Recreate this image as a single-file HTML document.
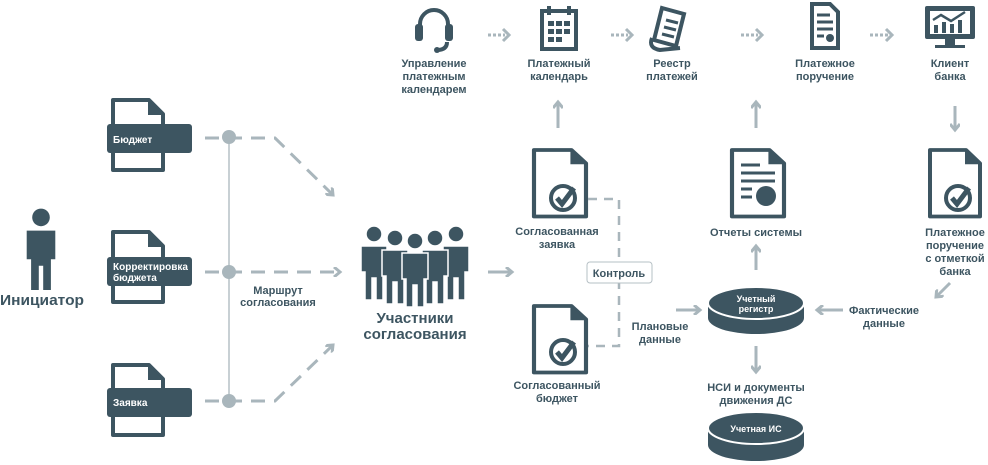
<!DOCTYPE html>
<html><head><meta charset="utf-8"><style>
html,body{margin:0;padding:0;background:#fff}
svg{display:block}
text{font-family:"Liberation Sans","DejaVu Sans",sans-serif;font-weight:bold;fill:#3d5561}
</style></head><body>
<svg width="988" height="465" viewBox="0 0 988 465" xmlns="http://www.w3.org/2000/svg">
<defs>
<g id="person" fill="#3d5561">
<circle cx="0" cy="-26" r="8"/>
<path d="M-13,-14 h26 v26 h-4 v28 h-7 v-22 h-4 v22 h-7 v-28 h-4z"/>
</g>
<g id="doc">
<path d="M0,0 h36 l14,14 v56 h-50z" fill="#fff" stroke="#3d5561" stroke-width="4" stroke-linejoin="round"/>
<path d="M35,0 v15 h15z" fill="#3d5561"/>
</g>
<g id="check">
<circle cx="0" cy="0" r="12" fill="none" stroke="#3d5561" stroke-width="4"/>
<path d="M-6,0 l5,6 l12,-16" fill="none" stroke="#3d5561" stroke-width="5"/>
</g>
<marker id="ah" markerWidth="10" markerHeight="10" refX="7" refY="5" orient="auto" markerUnits="userSpaceOnUse">
<path d="M1,0 L7,5 L1,10" fill="none" stroke="#a9b6bc" stroke-width="3"/>
</marker>
</defs>

<!-- Initiator -->
<g transform="translate(41,246) scale(1.1)"><use href="#person"/></g>
<text x="42" y="305" font-size="15" text-anchor="middle" textLength="84" lengthAdjust="spacingAndGlyphs">Инициатор</text>

<!-- left docs -->
<g transform="translate(113,100)"><use href="#doc"/></g>
<rect x="107" y="124" width="85" height="29" rx="3" fill="#3d5561"/>
<text x="113" y="143" font-size="10" style="fill:#fff">Бюджет</text>
<g transform="translate(113,232)"><use href="#doc"/></g>
<rect x="107" y="257" width="85" height="29" rx="3" fill="#3d5561"/>
<text x="113" y="270" font-size="10" style="fill:#fff">Корректировка</text>
<text x="113" y="281" font-size="10" style="fill:#fff">бюджета</text>
<g transform="translate(113,365)"><use href="#doc"/></g>
<rect x="107" y="388" width="85" height="29" rx="3" fill="#3d5561"/>
<text x="113" y="406" font-size="10" style="fill:#fff">Заявка</text>

<line x1="229" y1="137" x2="229" y2="401" stroke="#b6c0c5" stroke-width="1.5"/>
<g fill="none" stroke="#a9b6bc" stroke-width="3" stroke-dasharray="14,9">
<path d="M205,138 H275 L333,195" marker-end="url(#ah)"/>
<path d="M205,272 H340" marker-end="url(#ah)"/>
<path d="M205,401 H275 L333,345" marker-end="url(#ah)"/>
</g>
<circle cx="229" cy="137" r="7" fill="#a9b6bc"/>
<circle cx="229" cy="272" r="7" fill="#a9b6bc"/>
<circle cx="229" cy="401" r="7" fill="#a9b6bc"/>
<text x="278" y="294" font-size="11" text-anchor="middle">Маршрут</text>
<text x="278" y="306" font-size="11" text-anchor="middle">согласования</text>

<!-- participants -->
<g stroke="#fff" stroke-width="1.5">
<g transform="translate(374,260)"><use href="#person"/></g>
<g transform="translate(456,260)"><use href="#person"/></g>
<g transform="translate(395,264)"><use href="#person"/></g>
<g transform="translate(435,264)"><use href="#person"/></g>
<g transform="translate(415,267)"><use href="#person"/></g>
</g>
<text x="415" y="323" font-size="15" text-anchor="middle">Участники</text>
<text x="415" y="339" font-size="15" text-anchor="middle">согласования</text>
<line x1="488" y1="272" x2="512" y2="272" stroke="#a9b6bc" stroke-width="3" marker-end="url(#ah)"/>

<!-- approved docs -->
<g transform="translate(534,150) scale(1.04,0.95)"><use href="#doc"/></g>
<g transform="translate(563,198)"><use href="#check"/></g>
<text x="557" y="235" font-size="11" text-anchor="middle">Согласованная</text>
<text x="557" y="248" font-size="11" text-anchor="middle">заявка</text>
<g transform="translate(534,306) scale(1.04,0.95)"><use href="#doc"/></g>
<g transform="translate(563,352)"><use href="#check"/></g>
<text x="557" y="389" font-size="11" text-anchor="middle">Согласованный</text>
<text x="557" y="402" font-size="11" text-anchor="middle">бюджет</text>
<path d="M588,199 H619 V346 H588" fill="none" stroke="#a9b6bc" stroke-width="2.5" stroke-dasharray="9,7"/>
<rect x="587" y="262" width="65" height="21" rx="3" fill="#fff" stroke="#b6c0c5"/>
<text x="619" y="277" font-size="11" text-anchor="middle">Контроль</text>
<line x1="558" y1="128" x2="558" y2="102" stroke="#a9b6bc" stroke-width="3" marker-end="url(#ah)"/>
<text x="660" y="330" font-size="11" text-anchor="middle">Плановые</text>
<text x="660" y="343" font-size="11" text-anchor="middle">данные</text>
<line x1="676" y1="310" x2="700" y2="310" stroke="#a9b6bc" stroke-width="3" marker-end="url(#ah)"/>

<!-- reports -->
<g transform="translate(732,150) scale(1.04,0.95)"><use href="#doc"/></g>
<g stroke="#3d5561" stroke-width="3"><line x1="741" y1="165" x2="760" y2="165"/><line x1="741" y1="173" x2="775" y2="173"/><line x1="741" y1="181" x2="775" y2="181"/><line x1="741" y1="189" x2="752" y2="189"/><line x1="741" y1="197" x2="752" y2="197"/></g>
<circle cx="766" cy="196" r="10" fill="#3d5561"/>
<text x="756" y="236" font-size="11" text-anchor="middle">Отчеты системы</text>
<line x1="756" y1="128" x2="756" y2="102" stroke="#a9b6bc" stroke-width="3" marker-end="url(#ah)"/>
<line x1="756" y1="270" x2="756" y2="246" stroke="#a9b6bc" stroke-width="3" marker-end="url(#ah)"/>

<!-- register -->
<path d="M708,303 v15 a48,16 0 0 0 96,0 v-15z" fill="#3d5561"/>
<ellipse cx="756" cy="303" rx="48" ry="16" fill="#3d5561" stroke="#fff" stroke-width="2"/>
<text x="756" y="302" font-size="9" text-anchor="middle" style="fill:#fff">Учетный</text>
<text x="756" y="312" font-size="9" text-anchor="middle" style="fill:#fff">регистр</text>
<line x1="756" y1="346" x2="756" y2="372" stroke="#a9b6bc" stroke-width="3" marker-end="url(#ah)"/>
<text x="756" y="391" font-size="11" text-anchor="middle">НСИ и документы</text>
<text x="756" y="404" font-size="11" text-anchor="middle">движения ДС</text>
<path d="M708,428 v17 a48,16 0 0 0 96,0 v-17z" fill="#3d5561"/>
<ellipse cx="756" cy="428" rx="48" ry="16" fill="#3d5561" stroke="#fff" stroke-width="2"/>
<text x="756" y="432" font-size="9" text-anchor="middle" style="fill:#fff">Учетная ИС</text>
<text x="884" y="314" font-size="11" text-anchor="middle">Фактические</text>
<text x="884" y="327" font-size="11" text-anchor="middle">данные</text>
<line x1="843" y1="310" x2="817" y2="310" stroke="#a9b6bc" stroke-width="3" marker-end="url(#ah)"/>

<!-- right doc -->
<g transform="translate(930,150) scale(1.0,0.95)"><use href="#doc"/></g>
<g transform="translate(958,198)"><use href="#check"/></g>
<text x="955" y="236" font-size="11" text-anchor="middle">Платежное</text>
<text x="955" y="249" font-size="11" text-anchor="middle">поручение</text>
<text x="955" y="262" font-size="11" text-anchor="middle">с отметкой</text>
<text x="955" y="275" font-size="11" text-anchor="middle">банка</text>
<line x1="955" y1="106" x2="955" y2="130" stroke="#a9b6bc" stroke-width="3" marker-end="url(#ah)"/>
<line x1="950" y1="283" x2="936" y2="297" stroke="#a9b6bc" stroke-width="3" marker-end="url(#ah)"/>

<!-- top row icons -->
<g fill="none" stroke="#3d5561" stroke-width="4">
<path d="M420,32 v-8 a14,14 0 0 1 28,0 v8"/>
<path d="M447,42 q0,8 -10,8"/>
</g>
<rect x="415" y="24" width="8" height="17" rx="3" fill="#3d5561"/>
<rect x="445" y="24" width="8" height="17" rx="3" fill="#3d5561"/>
<circle cx="437" cy="50" r="3" fill="#3d5561"/>

<rect x="542" y="11" width="34" height="38" fill="none" stroke="#3d5561" stroke-width="4"/>
<g fill="#3d5561"><rect x="547" y="6" width="4" height="9"/><rect x="567" y="6" width="4" height="9"/>
<rect x="548" y="21" width="6" height="5"/><rect x="556" y="21" width="6" height="5"/><rect x="564" y="21" width="6" height="5"/>
<rect x="548" y="29" width="6" height="5"/><rect x="556" y="29" width="6" height="5"/><rect x="564" y="29" width="6" height="5"/>
<rect x="548" y="37" width="6" height="5"/><rect x="556" y="37" width="6" height="5"/></g>

<path d="M662,8 l22,6 l-8,32 l-22,-6 z" fill="none" stroke="#3d5561" stroke-width="4"/>
<path d="M652,38 q-4,10 8,12 l20,-2" fill="none" stroke="#3d5561" stroke-width="4"/>
<g stroke="#3d5561" stroke-width="3"><line x1="666" y1="20" x2="678" y2="23"/><line x1="664" y1="27" x2="676" y2="30"/><line x1="662" y1="34" x2="674" y2="37"/></g>

<path d="M812,4 h18 l8,8 v36 h-26z" fill="none" stroke="#3d5561" stroke-width="4"/>
<g stroke="#3d5561" stroke-width="3"><line x1="817" y1="15" x2="830" y2="15"/><line x1="817" y1="22" x2="833" y2="22"/><line x1="817" y1="29" x2="833" y2="29"/><line x1="817" y1="36" x2="824" y2="36"/></g>
<circle cx="830" cy="38" r="4" fill="#3d5561"/>

<rect x="925" y="6" width="50" height="33" rx="2" fill="#3d5561"/>
<rect x="930" y="11" width="40" height="23" fill="#fff"/>
<g fill="#3d5561"><rect x="934" y="25" width="4" height="8"/><rect x="942" y="22" width="4" height="11"/><rect x="950" y="24" width="4" height="9"/><rect x="958" y="20" width="4" height="13"/></g>
<path d="M933,20 l8,-5 l10,6 l14,-9" fill="none" stroke="#3d5561" stroke-width="2.5"/>
<rect x="945" y="39" width="10" height="6" fill="#3d5561"/><rect x="935" y="45" width="30" height="3" fill="#3d5561"/>

<g fill="none" stroke="#a9b6bc" stroke-width="3" stroke-dasharray="3,2">
<line x1="488" y1="35" x2="505" y2="35"/><line x1="611" y1="35" x2="628" y2="35"/><line x1="741" y1="35" x2="758" y2="35"/><line x1="870" y1="35" x2="888" y2="35"/>
</g>
<g fill="none" stroke="#a9b6bc" stroke-width="3">
<path d="M503,29 l6,6 l-6,6"/><path d="M626,29 l6,6 l-6,6"/><path d="M756,29 l6,6 l-6,6"/><path d="M886,29 l6,6 l-6,6"/>
</g>

<g font-size="11" text-anchor="middle">
<text x="434" y="67">Управление</text><text x="434" y="80">платежным</text><text x="434" y="93">календарем</text>
<text x="559" y="67">Платежный</text><text x="559" y="80">календарь</text>
<text x="672" y="67">Реестр</text><text x="672" y="80">платежей</text>
<text x="825" y="67">Платежное</text><text x="825" y="80">поручение</text>
<text x="950" y="67">Клиент</text><text x="950" y="80">банка</text>
</g>
</svg>
</body></html>
